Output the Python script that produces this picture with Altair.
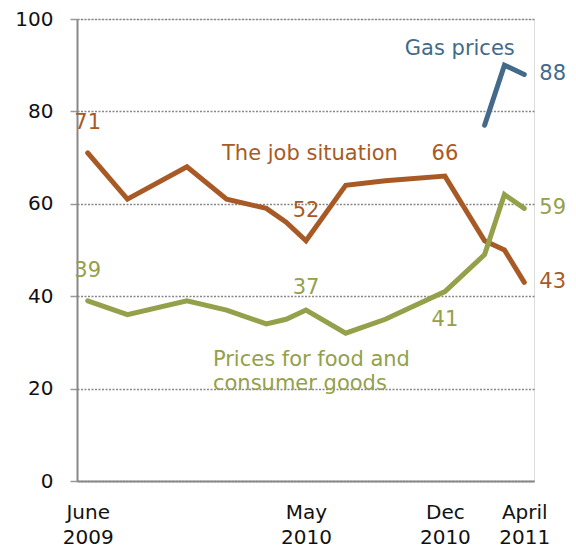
import altair as alt
import pandas as pd

# ---- data ----
survey_months = ["2009-06", "2009-08", "2009-11", "2010-01", "2010-03", "2010-04",
                 "2010-05", "2010-07", "2010-09", "2010-12", "2011-02", "2011-03", "2011-04"]
job_situation = [71, 61, 68, 61, 59, 56, 52, 64, 65, 66, 52, 50, 43]
food_prices = [39, 36, 39, 37, 34, 35, 37, 32, 35, 41, 49, 62, 59]
gas_months = ["2011-02", "2011-03", "2011-04"]
gas_prices = [77, 90, 88]

tick_months = ["2009-06", "2010-05", "2010-12", "2011-04"]
tick_labels = [["June", "2009"], ["May", "2010"], ["Dec", "2010"], ["April", "2011"]]

series_names = ["The job situation", "Prices for food and consumer goods", "Gas prices"]
series_colors = ["#A85A26", "#94A04A", "#436A8A"]


def month_index(s):
    y, m = map(int, s.split("-"))
    return (y - 2009) * 12 + m - 6


rows = []
for mo, v in zip(survey_months, job_situation):
    rows.append({"series": series_names[0], "m": month_index(mo), "value": v})
for mo, v in zip(survey_months, food_prices):
    rows.append({"series": series_names[1], "m": month_index(mo), "value": v})
for mo, v in zip(gas_months, gas_prices):
    rows.append({"series": series_names[2], "m": month_index(mo), "value": v})
df = pd.DataFrame(rows)

# which points get value labels and where
label_points = [
    (series_names[0], "2009-06", "above"),
    (series_names[0], "2010-05", "above"),
    (series_names[0], "2010-12", "above_near"),
    (series_names[0], "2011-04", "right"),
    (series_names[1], "2009-06", "above"),
    (series_names[1], "2010-05", "above_near"),
    (series_names[1], "2010-12", "below"),
    (series_names[1], "2011-04", "right"),
    (series_names[2], "2011-04", "right"),
]
lab_rows = []
for s, mo, pos in label_points:
    r = df[(df.series == s) & (df.m == month_index(mo))].iloc[0]
    lab_rows.append({"series": s, "m": int(r.m), "value": int(r.value), "pos": pos})
labels_df = pd.DataFrame(lab_rows)

# series name annotations (position in data units)
ann_df = pd.DataFrame([
    {"series": series_names[0], "m": 11.2, "value": 69.5, "text": "The job situation"},
    {"series": series_names[2], "m": 18.75, "value": 92.2, "text": "Gas prices"},
])
food_ann_df = pd.DataFrame([
    {"series": series_names[1], "m": 6.31, "value": 24.9, "text": "Prices for food and|consumer goods"},
])

tick_values = [month_index(t) for t in tick_months]
label_expr = ""
for v, lab in zip(tick_values, tick_labels):
    label_expr += f"datum.value == {v} ? ['{lab[0]}', '{lab[1]}'] : "
label_expr += "''"

FONT = "DejaVu Sans"

xscale = alt.Scale(domain=[-0.54, 22.49], nice=False, zero=False)
yscale = alt.Scale(domain=[0, 100], nice=False)
color = alt.Color("series:N", scale=alt.Scale(domain=series_names, range=series_colors), legend=None)

x_enc = alt.X("m:Q", scale=xscale,
              axis=alt.Axis(values=tick_values, labelExpr=label_expr, title=None, grid=False,
                            ticks=False, labelPadding=21, labelFontSize=20, labelFont=FONT,
                            labelColor="#111", labelLineHeight=25, domainColor="#888",
                            domainWidth=2, labelFlush=False, labelOverlap=False))
y_enc = alt.Y("value:Q", scale=yscale,
              axis=alt.Axis(values=[0, 20, 40, 60, 80, 100], title=None, grid=True,
                            gridColor="#888", gridDash=[2, 1.5], gridWidth=1.5,
                            tickSize=7, tickColor="#999", tickWidth=1.5,
                            labelPadding=17, labelFontSize=20, labelFont=FONT, labelColor="#111",
                            domainColor="#888", domainWidth=2))

base = alt.Chart(df)
lines = [
    base.transform_filter(alt.datum.series == s).mark_line(strokeWidth=5, strokeCap="round")
    .encode(x=x_enc, y=y_enc, color=color)
    for s in series_names
]

lab = alt.Chart(labels_df)
txt_kw = dict(fontSize=21, font=FONT)
lab_above = lab.transform_filter(alt.datum.pos == "above").mark_text(dy=-30, **txt_kw).encode(
    x="m:Q", y="value:Q", text="value:Q", color=color)
lab_above_near = lab.transform_filter(alt.datum.pos == "above_near").mark_text(dy=-22, **txt_kw).encode(
    x="m:Q", y="value:Q", text="value:Q", color=color)
lab_below = lab.transform_filter(alt.datum.pos == "below").mark_text(dy=28, **txt_kw).encode(
    x="m:Q", y="value:Q", text="value:Q", color=color)
lab_right = lab.transform_filter(alt.datum.pos == "right").mark_text(dx=15, align="left", **txt_kw).encode(
    x="m:Q", y="value:Q", text="value:Q", color=color)

ann = alt.Chart(ann_df).mark_text(baseline="alphabetic", **txt_kw).encode(
    x="m:Q", y="value:Q", text="text:N", color=color)
food_ann = alt.Chart(food_ann_df).mark_text(baseline="alphabetic", align="left", lineBreak="|",
                                            lineHeight=24, **txt_kw).encode(
    x="m:Q", y="value:Q", text="text:N", color=color)

chart = alt.layer(*lines, lab_above, lab_above_near, lab_below, lab_right, ann, food_ann).properties(
    width=457, height=462,
    autosize=alt.AutoSizeParams(type="none"),
    padding={"left": 69, "top": 11, "right": 34, "bottom": 71},
).configure_view(stroke=None).configure(background="white")

chart.save("out.html", embed_options={"renderer": "svg", "actions": False})
